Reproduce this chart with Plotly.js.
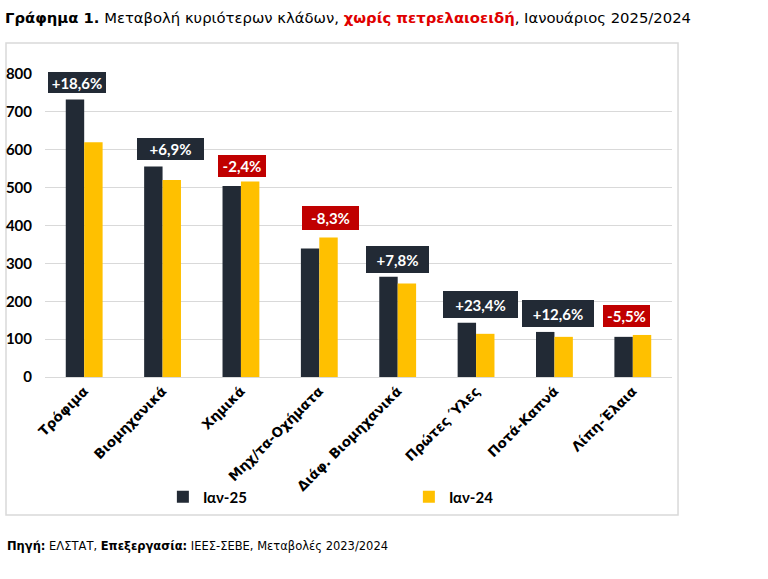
<!DOCTYPE html>
<html>
<head>
<meta charset="utf-8">
<script src="https://cdn.plot.ly/plotly-3.0.1.min.js"></script>
<style>html,body{margin:0;padding:0;background:#fff;}#chart{width:768px;height:579px;}</style>
</head>
<body>
<div id="chart"></div>
<script>
const categories = ['Τρόφιμα', 'Βιομηχανικά', 'Χημικά', 'Μηχ/τα-Οχήματα', 'Διάφ. Βιομηχανικά', 'Πρώτες Ύλες', 'Ποτά-Καπνά', 'Λίπη-Έλαια'];
const jan25 = [733, 556, 504, 339, 265, 143, 119, 106];
const jan24 = [620, 520, 516, 368, 247, 114, 106, 111];
const changeLabels = ['+18,6%', '+6,9%', '-2,4%', '-8,3%', '+7,8%', '+23,4%', '+12,6%', '-5,5%'];
const seriesNames = ['Ιαν-25', 'Ιαν-24'];
const yTicks = [0, 100, 200, 300, 400, 500, 600, 700, 800];

const FONT = 'Lato, "Open Sans", sans-serif';
const WIDE = '"DejaVu Sans", Lato, sans-serif';
const DARK = '#222a35';
const YELLOW = '#ffc000';
const RED = '#c00000';

// label box placement / sizes (pixels)
const labelXShift = [-7, 8, 1, 11, 0, 4, 4, -6];
const labelBoxW = [58, 67, 48, 57, 63, 75, 72, 47];
const labelBoxH = [21, 22, 22, 24, 27, 27, 27, 22];
const labelGap = [6, 6, 5, 8, 4, 5, 5, 8];

const traces = [
  {type: 'bar', name: seriesNames[0], x: categories, y: jan25, marker: {color: DARK}, hoverinfo: 'y'},
  {type: 'bar', name: seriesNames[1], x: categories, y: jan24, marker: {color: YELLOW}, hoverinfo: 'y'}
];

const annotations = categories.map((c, i) => {
  const neg = changeLabels[i].startsWith('-');
  return {
    x: c, y: Math.max(jan25[i], jan24[i]), xref: 'x', yref: 'y',
    text: '<b>' + changeLabels[i] + '</b>', showarrow: false,
    xanchor: 'center', yanchor: 'bottom', xshift: labelXShift[i], yshift: labelGap[i],
    width: labelBoxW[i] - 2, height: labelBoxH[i] - 2, align: 'center', valign: 'middle',
    font: {family: FONT, size: 15, color: '#ffffff'},
    bgcolor: neg ? RED : DARK, borderpad: 1, borderwidth: 0
  };
});

annotations.push({
  xref: 'paper', yref: 'paper', x: -0.064, y: -0.558, xanchor: 'left', yanchor: 'middle',
  showarrow: false, align: 'left',
  text: '<b>Πηγή:</b> ΕΛΣΤΑΤ, <b>Επεξεργασία:</b> ΙΕΕΣ-ΣΕΒΕ, Μεταβολές 2023/2024',
  font: {family: WIDE, size: 11.5, color: '#000000'}
});

const layout = {
  width: 768, height: 579,
  margin: {l: 45, r: 96, t: 74, b: 202},
  paper_bgcolor: '#ffffff', plot_bgcolor: '#ffffff',
  barmode: 'group', bargap: 0.53, bargroupgap: 0,
  title: {
    text: '<b>Γράφημα 1.</b> Μεταβολή κυριότερων κλάδων, <b><span style="color:#e00000">χωρίς πετρελαιοειδή</span></b>, Ιανουάριος 2025/2024',
    xref: 'container', yref: 'container', x: 5/768, xanchor: 'left', y: 1 - 18/579, yanchor: 'middle',
    font: {family: WIDE, size: 14.8, color: '#000000'}
  },
  xaxis: {
    type: 'category', tickangle: -45, showgrid: false,
    showline: true, linecolor: '#d9d9d9', linewidth: 1,
    ticks: '', tickfont: {family: WIDE, size: 13.5, color: '#000000', weight: 'bold'}
  },
  yaxis: {
    range: [0, 800], tickvals: yTicks, ticktext: yTicks.map(String),
    showgrid: true, gridcolor: '#d9d9d9', gridwidth: 1,
    zeroline: false, showline: false, ticks: '',
    ticklabelstandoff: 12,
    tickfont: {family: FONT, size: 15, color: '#000000', weight: 'bold'}
  },
  legend: {
    orientation: 'h', x: 0.188, xanchor: 'left', y: -0.396, yanchor: 'middle',
    entrywidth: 201, entrywidthmode: 'pixels', itemwidth: 30,
    bgcolor: 'rgba(0,0,0,0)',
    font: {family: FONT, size: 15, color: '#000000', weight: 'bold'},
    traceorder: 'normal'
  },
  shapes: [{
    type: 'rect', xref: 'paper', yref: 'paper',
    x0: -0.0622, x1: 1.0096, y0: -0.4554, y1: 1.1023,
    line: {color: '#d9d9d9', width: 1.5}, fillcolor: 'rgba(0,0,0,0)', layer: 'below'
  }],
  annotations: annotations,
  showlegend: true
};

Plotly.newPlot('chart', traces, layout, {displayModeBar: false, staticPlot: true});
</script>
</body>
</html>
